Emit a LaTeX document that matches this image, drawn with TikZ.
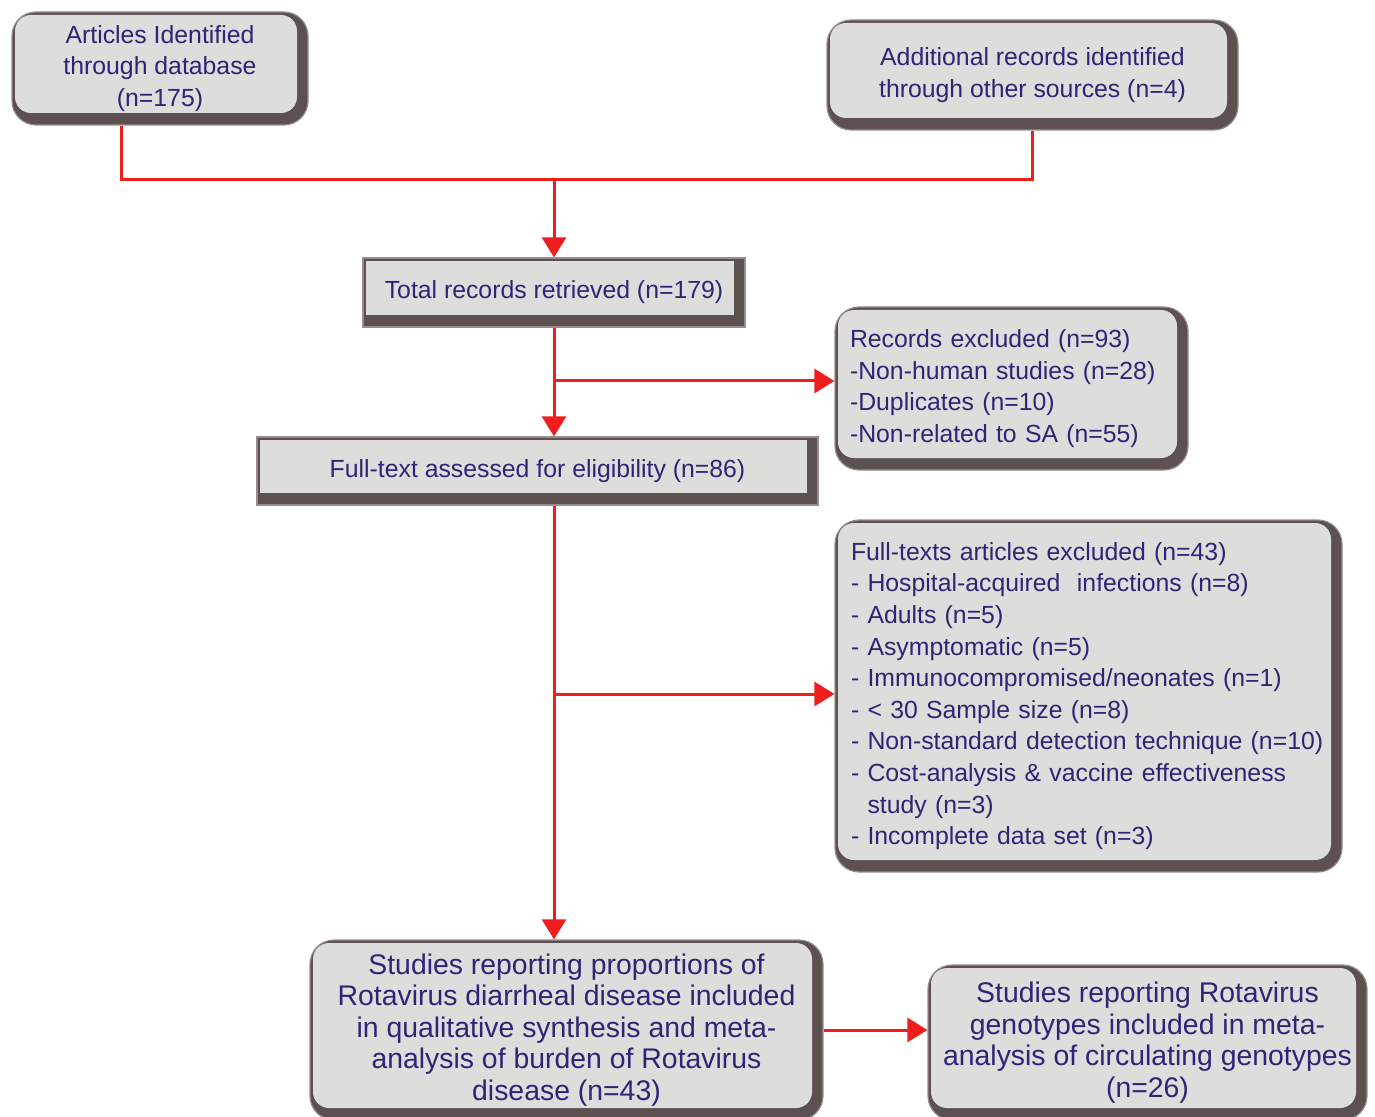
\documentclass[tikz,border=0pt]{standalone}
\usepackage{fontspec}
\setmainfont{Liberation Sans}
\usetikzlibrary{arrows.meta}

\definecolor{boxgray}{RGB}{221,221,219}
\definecolor{boxdark}{RGB}{92,80,80}
\definecolor{boxrim}{RGB}{150,142,142}
\definecolor{txtblue}{RGB}{46,36,120}
\definecolor{linkred}{RGB}{238,30,30}

\tikzset{
    bevel/.style={draw=boxrim, line width=0.6pt, fill=boxdark, text=txtblue,
        font=\fontsize{12.4}{15.8}\selectfont, inner sep=4pt,
        path picture={\fill[boxgray, rounded corners=#1]
            ([shift={(1.5pt,6pt)}]path picture bounding box.south west) rectangle
            ([shift={(-5.5pt,-1.5pt)}]path picture bounding box.north east);}},
    bevel/.default=0pt,
    roundbox/.style={bevel=8pt, rounded corners=12pt},
    flatbox/.style={bevel},
    bigtext/.style={font=\fontsize{14.2}{15.8}\selectfont},
    link/.style={draw=linkred, line width=1.5pt},
    tip/.style={link, -{Triangle[width=12pt,length=10pt]}},
}

\begin{document}
\begin{tikzpicture}[x=0.5pt, y=-0.5pt]

    \useasboundingbox (0,0) rectangle (1375,1117);

    % identification
    \node[roundbox, minimum width=148pt, minimum height=56.5pt, align=center]
        (art) at (160,68.5) {Articles Identified\\through database\\(n=175)};
    \node[roundbox, minimum width=205.5pt, minimum height=55pt, align=center]
        (add) at (1032.5,75) {Additional records identified\\through other sources (n=4)};

    % screening
    \node[flatbox, minimum width=191pt, minimum height=34.5pt]
        (tot) at (554,292.5) {Total records retrieved (n=179)};
    \node[roundbox, minimum height=81.5pt, text width=161.5pt, inner xsep=7.5pt, align=left]
        (rex) at (1011.5,388.5) {Records excluded (n=93)\\-Non-human studies (n=28)\\-Duplicates (n=10)\\-Non-related to SA (n=55)};

    % eligibility
    \node[flatbox, minimum width=280.5pt, minimum height=34pt]
        (fta) at (537.5,471) {Full-text assessed for eligibility (n=86)};
    \node[roundbox, minimum height=176pt, text width=237.5pt, inner xsep=8pt, align=left]
        (fex) at (1088.5,696) {Full-texts articles excluded (n=43)\\
        - Hospital-acquired\ \ infections (n=8)\\
        - Adults (n=5)\\
        - Asymptomatic (n=5)\\
        - Immunocompromised/neonates (n=1)\\
        - < 30 Sample size (n=8)\\
        - Non-standard detection technique (n=10)\\
        - Cost-analysis \& vaccine effectiveness\\
        \phantom{- }study (n=3)\\
        - Incomplete data set (n=3)};

    % included
    \node[roundbox, bigtext, minimum width=256.5pt, minimum height=90pt, align=center]
        (bur) at (566.5,1030) {Studies reporting proportions of\\Rotavirus diarrheal disease included\\in qualitative synthesis and meta-\\analysis of burden of Rotavirus\\disease (n=43)};
    \node[roundbox, bigtext, minimum width=219.5pt, minimum height=77.5pt, align=center]
        (gen) at (1147.5,1042.5) {Studies reporting Rotavirus\\genotypes included in meta-\\analysis of circulating genotypes\\(n=26)};

    % junctions
    \coordinate (jl) at (121,180);
    \coordinate (jr) at (1032,180);
    \coordinate (jm) at (554,180);
    \coordinate (b1) at (554,381);
    \coordinate (b2) at (554,694);

    % connectors
    \draw[link] (art.south -| jl) -- (jl) -- (jr) -- (add.south -| jr);
    \draw[tip] (jm) -- (tot.north);
    \draw[tip] (tot.south) -- (fta.north -| tot.south);
    \draw[tip] (b1) -- (b1 -| rex.west);
    \draw[tip] (fta.south -| tot.south) -- (bur.north -| tot.south);
    \draw[tip] (b2) -- (b2 -| fex.west);
    \draw[tip] (bur.east) -- (bur.east -| gen.west);

\end{tikzpicture}
\end{document}
